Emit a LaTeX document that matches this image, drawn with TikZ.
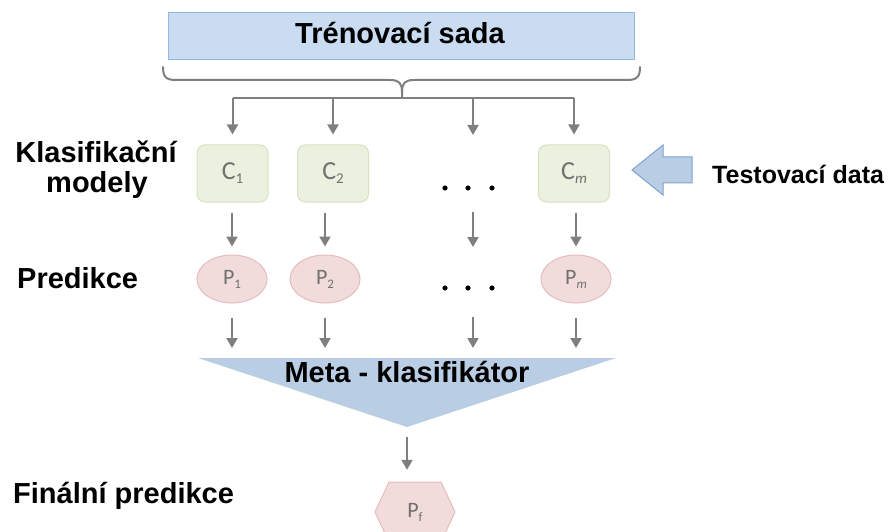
\documentclass[tikz,border=0pt]{standalone}
\usepackage{fontspec}
\setmainfont{Liberation Sans}
\newfontfamily\calfont{Carlito}
\usetikzlibrary{arrows.meta,shapes.geometric,calc}
\definecolor{boxblue}{HTML}{C9DCF2}
\definecolor{boxblueb}{HTML}{95B8E3}
\definecolor{cfill}{HTML}{EBF1DE}
\definecolor{cdraw}{HTML}{D5E2C0}
\definecolor{pfill}{HTML}{F2DCDB}
\definecolor{pdraw}{HTML}{E4BCBB}
\definecolor{metablue}{HTML}{B9CDE5}
\definecolor{tdraw}{HTML}{7FA2D2}
\definecolor{arrgray}{HTML}{7F7F7F}
\definecolor{lblgray}{HTML}{707070}
\newcommand\lowsub[2]{\raisebox{-4pt}{\fontsize{#1}{#1}\selectfont #2}}
\tikzset{
  lbl/.style={font=\fontsize{29}{34}\selectfont\bfseries, inner sep=0pt, anchor=base},
  arr/.style={draw=arrgray, line width=2pt, -{Triangle[length=10pt,width=11pt]}},
  cbox/.style={draw=cdraw, fill=cfill, line width=1pt, rounded corners=8pt,
    minimum width=71pt, minimum height=57pt, inner sep=0pt, text=lblgray,
    font=\calfont\fontsize{26}{26}\selectfont},
  pell/.style={ellipse, draw=pdraw, fill=pfill, line width=1pt,
    minimum width=70pt, minimum height=48pt, inner sep=0pt, text=lblgray,
    font=\calfont\fontsize{22}{22}\selectfont},
  dotmark/.style={fill=black},
}
\begin{document}
\begin{tikzpicture}[x=1pt,y=-1pt]
\useasboundingbox (0,0) rectangle (892,532);
% training set box
\node[draw=boxblueb, fill=boxblue, line width=1pt, minimum width=466pt,
  minimum height=47pt, inner sep=0pt] (train) at (401,36.5) {};
\node[lbl] (traintxt) at (400,44) {Trénovací sada};
% brace
\draw[arrgray, line width=2pt, line cap=round]
  (163,67) .. controls (163,77) and (166,80) .. (176,80) -- (390,80)
  .. controls (399,80) and (402,83) .. (402,92) -- (402,98);
\draw[arrgray, line width=2pt, line cap=round]
  (640,67) .. controls (640,77) and (637,80) .. (627,80) -- (414,80)
  .. controls (405,80) and (402,83) .. (402,92);
\coordinate (bar) at (402,98);
% classifiers
\node[cbox] (C1) at (232.5,173.5) {C\lowsub{15}{1}};
\node[cbox] (C2) at (333,173.5) {C\lowsub{15}{2}};
\node[cbox] (Cm) at (574,173.5) {C\lowsub{15}{\itshape m}};
\coordinate (D1) at (473,188);
\coordinate (D2) at (473,288);
\coordinate (Dtop) at (473,145);
\coordinate (Dmid) at (473,202);
\coordinate (Dlow) at (473,255);
\coordinate (Dbot) at (473,303);
\foreach \dx in {-28,-5,19} {
  \fill[dotmark] ($(D1)+(\dx,0)$) circle (2.6pt);
  \fill[dotmark] ($(D2)+(\dx,0)$) circle (2.6pt);
}
% predictions
\node[pell] (P1) at (232,279) {P\lowsub{13}{1}};
\node[pell] (P2) at (325,279) {P\lowsub{13}{2}};
\node[pell] (Pm) at (576,279) {P\lowsub{13}{\itshape m}};
% bar and drops
\draw[arrgray, line width=2pt] (C1 |- bar) -- (Cm |- bar);
\draw[arr] (C1 |- bar) -- ($(C1.north)+(0,-10)$);
\draw[arr] (C2 |- bar) -- ($(C2.north)+(0,-10)$);
\draw[arr] (Dtop |- bar) -- ($(Dtop)+(0,-10)$);
\draw[arr] (Cm |- bar) -- ($(Cm.north)+(0,-10)$);
% C -> P
\draw[arr] ($(P1 |- C1.south)+(0,10)$) -- ($(P1.north)+(0,-8)$);
\draw[arr] ($(P2 |- C2.south)+(0,10)$) -- ($(P2.north)+(0,-8)$);
\draw[arr] ($(Dmid)+(0,10)$) -- ($(Dlow)+(0,-8)$);
\draw[arr] ($(Pm |- Cm.south)+(0,10)$) -- ($(Pm.north)+(0,-8)$);
% meta classifier
\coordinate (mtl) at (198,358);
\coordinate (mtr) at (616,358);
\coordinate (mtip) at (407,427);
\fill[metablue] (mtl) -- (mtr) -- (mtip) -- cycle;
\node[lbl] (meta) at (407,382) {Meta - klasifikátor};
\draw[arr] ($(P1.south)+(0,14)$) -- ($(P1 |- mtl)+(0,-10)$);
\draw[arr] ($(P2.south)+(0,14)$) -- ($(P2 |- mtl)+(0,-10)$);
\draw[arr] ($(Dbot)+(0,14)$) -- ($(Dbot |- mtl)+(0,-10)$);
\draw[arr] ($(Pm.south)+(0,14)$) -- ($(Pm |- mtl)+(0,-10)$);
% final prediction
\fill[pfill] (375,512) -- (389,482) -- (441,482) -- (455,512) -- (441,542) -- (389,542) -- cycle;
\draw[pdraw, line width=1pt] (375,512) -- (389,482) -- (441,482) -- (455,512) -- (441,542) -- (389,542) -- cycle;
\node[inner sep=0pt, minimum height=60pt, text=lblgray,
  font=\calfont\fontsize{22}{22}\selectfont] (Pf) at (415,512) {P\lowsub{13}{f}};
\draw[arr] ($(mtip)+(0,10)$) -- ($(mtip |- Pf.north)+(0,-12)$);
% test data arrow
\draw[tdraw, fill=metablue, line width=1pt, line join=miter]
  (632,170) -- (663,145) -- (663,157) -- (692,157) -- (692,183) -- (663,183) -- (663,195) -- cycle;
\node[lbl, font=\fontsize{25}{30}\selectfont\bfseries, anchor=base west] (test) at (712,184) {Testovací data};
% row labels
\node[lbl] (klas1) at (96,163) {Klasifikační};
\node[lbl] (klas2) at (97,193) {modely};
\node[lbl, anchor=base west] (pred) at (17,288) {Predikce};
\node[lbl, anchor=base west] (fin) at (13,503) {Finální predikce};
\end{tikzpicture}
\end{document}
